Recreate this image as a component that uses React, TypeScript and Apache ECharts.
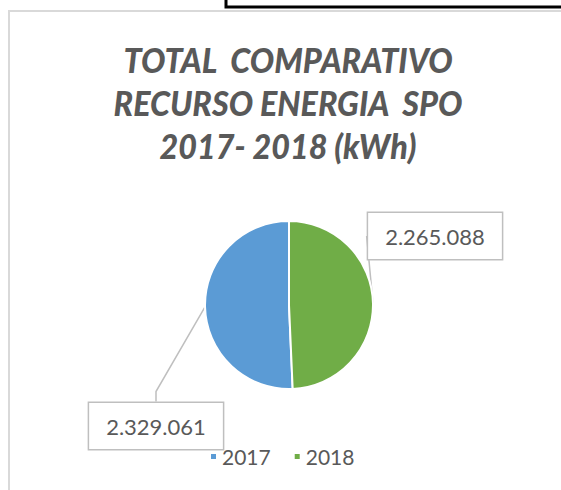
import React, { useEffect, useRef } from "react";
import * as echarts from "echarts";

const categories = ["2017", "2018"];
const values = [2329061, 2265088];
const colors = ["#5B9BD5", "#70AD47"];
const titleLines = ["TOTAL  COMPARATIVO", "RECURSO ENERGIA  SPO", "2017- 2018 (kWh)"];

const fmt = (v: number) => String(v).replace(/\B(?=(\d{3})+(?!\d))/g, ".");

const labelPos: Record<number, { x: number; y: number }> = {
  0: { x: 156, y: 426 },
  1: { x: 435, y: 236 },
};

export default function App() {
  const ref = useRef<HTMLDivElement>(null);
  useEffect(() => {
    if (!ref.current) return;
    const chart = echarts.init(ref.current, null, { renderer: "svg" });
    const font = "Lato, 'Open Sans', sans-serif";
    chart.setOption({
      animation: false,
      backgroundColor: "#ffffff",
      graphic: [
        {
          type: "rect",
          shape: { x: 9, y: 11, width: 700, height: 700 },
          style: { fill: "none", stroke: "#D9D9D9", lineWidth: 2 },
          z: -1,
        },
        {
          type: "rect",
          shape: { x: 226, y: -10, width: 400, height: 17 },
          style: { fill: "none", stroke: "#000000", lineWidth: 3 },
        },
        ...titleLines.map((t, i) => ({
          type: "text",
          x: 288,
          y: 60 + i * 43,
          scaleX: 0.95,
          style: {
            text: t,
            fill: "#595959",
            font: `italic 900 34px ${font}`,
            textAlign: "center",
            textVerticalAlign: "middle",
          },
        })),
      ],
      legend: {
        data: categories,
        bottom: 18,
        left: 204,
        itemWidth: 7,
        itemHeight: 7,
        itemGap: 22,
        icon: "rect",
        textStyle: { color: "#595959", fontSize: 21, fontFamily: font },
      },
      series: [
        {
          type: "pie",
          center: [289, 305],
          radius: 84,
          startAngle: 90,
          clockwise: false,
          itemStyle: { borderColor: "#ffffff", borderWidth: 2 },
          label: {
            show: true,
            formatter: (p: any) => fmt(p.value),
            color: "#595959",
            fontSize: 22,
            fontFamily: font,
            backgroundColor: "#ffffff",
            borderColor: "#BFBFBF",
            borderWidth: 1.5,
            padding: [12, 17],
          },
          labelLine: {
            show: true,
            length: 10,
            length2: 10,
            lineStyle: { color: "#BFBFBF", width: 1.5 },
          },
          labelLayout: (p: any) => ({
            x: labelPos[p.dataIndex].x,
            y: labelPos[p.dataIndex].y,
            align: "center",
            verticalAlign: "middle",
          }),
          data: categories.map((c, i) => ({
            name: c,
            value: values[i],
            itemStyle: { color: colors[i] },
          })),
        },
      ],
    });
    return () => chart.dispose();
  }, []);
  return (
    <div
      ref={ref}
      style={{ position: "absolute", left: 0, top: 0, width: 561, height: 490 }}
    />
  );
}
